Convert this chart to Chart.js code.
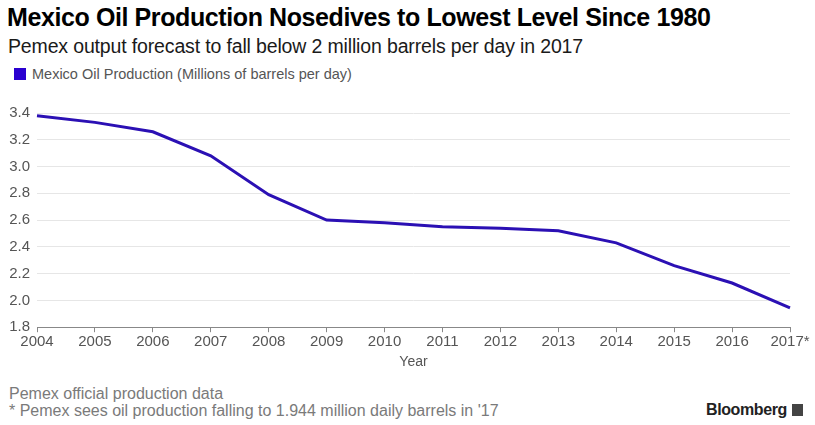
<!DOCTYPE html>
<html>
<head>
<meta charset="utf-8">
<script src="https://cdn.jsdelivr.net/npm/chart.js@4"></script>
<style>
  html, body { margin: 0; padding: 0; background: #fff; }
  body { width: 815px; height: 425px; position: relative; overflow: hidden; font-family: "Liberation Sans", Arial, sans-serif; }
  #title { position: absolute; left: 7px; top: 3px; font-size: 25px; font-weight: bold; color: #000; letter-spacing: -0.4px; white-space: nowrap; }
  #subtitle { position: absolute; left: 8px; top: 35px; font-size: 19.5px; color: #1a1a1a; white-space: nowrap; letter-spacing: -0.15px; }
  #legend { position: absolute; left: 14px; top: 66px; font-size: 14.5px; color: #555; white-space: nowrap; }
  #legend .sw { display: inline-block; width: 12px; height: 12px; background: #2a00d0; vertical-align: -1px; margin-right: 6px; }
  #footer1 { position: absolute; left: 9px; top: 385px; font-size: 16px; color: #7a7a7a; white-space: nowrap; }
  #footer2 { position: absolute; left: 9px; top: 402px; font-size: 16px; color: #7a7a7a; white-space: nowrap; }
  #brand { position: absolute; left: 706px; top: 401px; font-size: 16px; font-weight: bold; color: #222; white-space: nowrap; letter-spacing: -0.4px; }
  #brand .ic { display: inline-block; width: 11px; height: 12px; background: #444; vertical-align: -1px; margin-left: 5px; }
  #wrap { position: absolute; left: 0; top: 97px; width: 815px; height: 274px; }
</style>
</head>
<body>
<div id="title">Mexico Oil Production Nosedives to Lowest Level Since 1980</div>
<div id="subtitle">Pemex output forecast to fall below 2 million barrels per day in 2017</div>
<div id="legend"><span class="sw"></span>Mexico Oil Production (Millions of barrels per day)</div>
<div id="wrap"><canvas id="c" width="815" height="274"></canvas></div>
<div id="footer1">Pemex official production data</div>
<div id="footer2">* Pemex sees oil production falling to 1.944 million daily barrels in '17</div>
<div id="brand">Bloomberg<span class="ic"></span></div>
<script>
const years = ["2004","2005","2006","2007","2008","2009","2010","2011","2012","2013","2014","2015","2016","2017*"];
const production = [3.38, 3.33, 3.26, 3.08, 2.79, 2.60, 2.58, 2.55, 2.54, 2.52, 2.43, 2.26, 2.13, 1.944];
const yTicks = [1.8, 2.0, 2.2, 2.4, 2.6, 2.8, 3.0, 3.2, 3.4];

new Chart(document.getElementById('c'), {
  type: 'line',
  data: {
    labels: years,
    datasets: [{
      label: 'Mexico Oil Production (Millions of barrels per day)',
      data: production,
      borderColor: '#2b10b4',
      borderWidth: 3,
      pointRadius: 0,
      tension: 0,
      fill: false
    }]
  },
  options: {
    responsive: false,
    animation: false,
    layout: { padding: { top: 8, right: 25, left: 0, bottom: 0 } },
    plugins: { legend: { display: false }, tooltip: { enabled: false } },
    scales: {
      x: {
        offset: false,
        grid: { drawOnChartArea: false, drawTicks: true, tickLength: 5, color: '#888' },
        border: { display: true, color: '#888', width: 1 },
        ticks: { color: '#555', font: { family: 'Liberation Sans', size: 15 }, padding: 1, maxRotation: 0, autoSkip: false },
        title: { display: true, text: 'Year', color: '#555', font: { family: 'Liberation Sans', size: 14 }, padding: { top: 2, bottom: 0 } }
      },
      y: {
        min: 1.8, max: 3.4,
        afterBuildTicks: (s) => { s.ticks = yTicks.map(v => ({ value: v })); },
        afterFit: (s) => { s.width = 37; },
        grid: { color: '#e6e6e6', drawTicks: false },
        border: { display: false },
        ticks: { color: '#555', font: { family: 'Liberation Sans', size: 15 }, padding: 7, callback: (v) => v.toFixed(1) }
      }
    }
  }
});
</script>
</body>
</html>
